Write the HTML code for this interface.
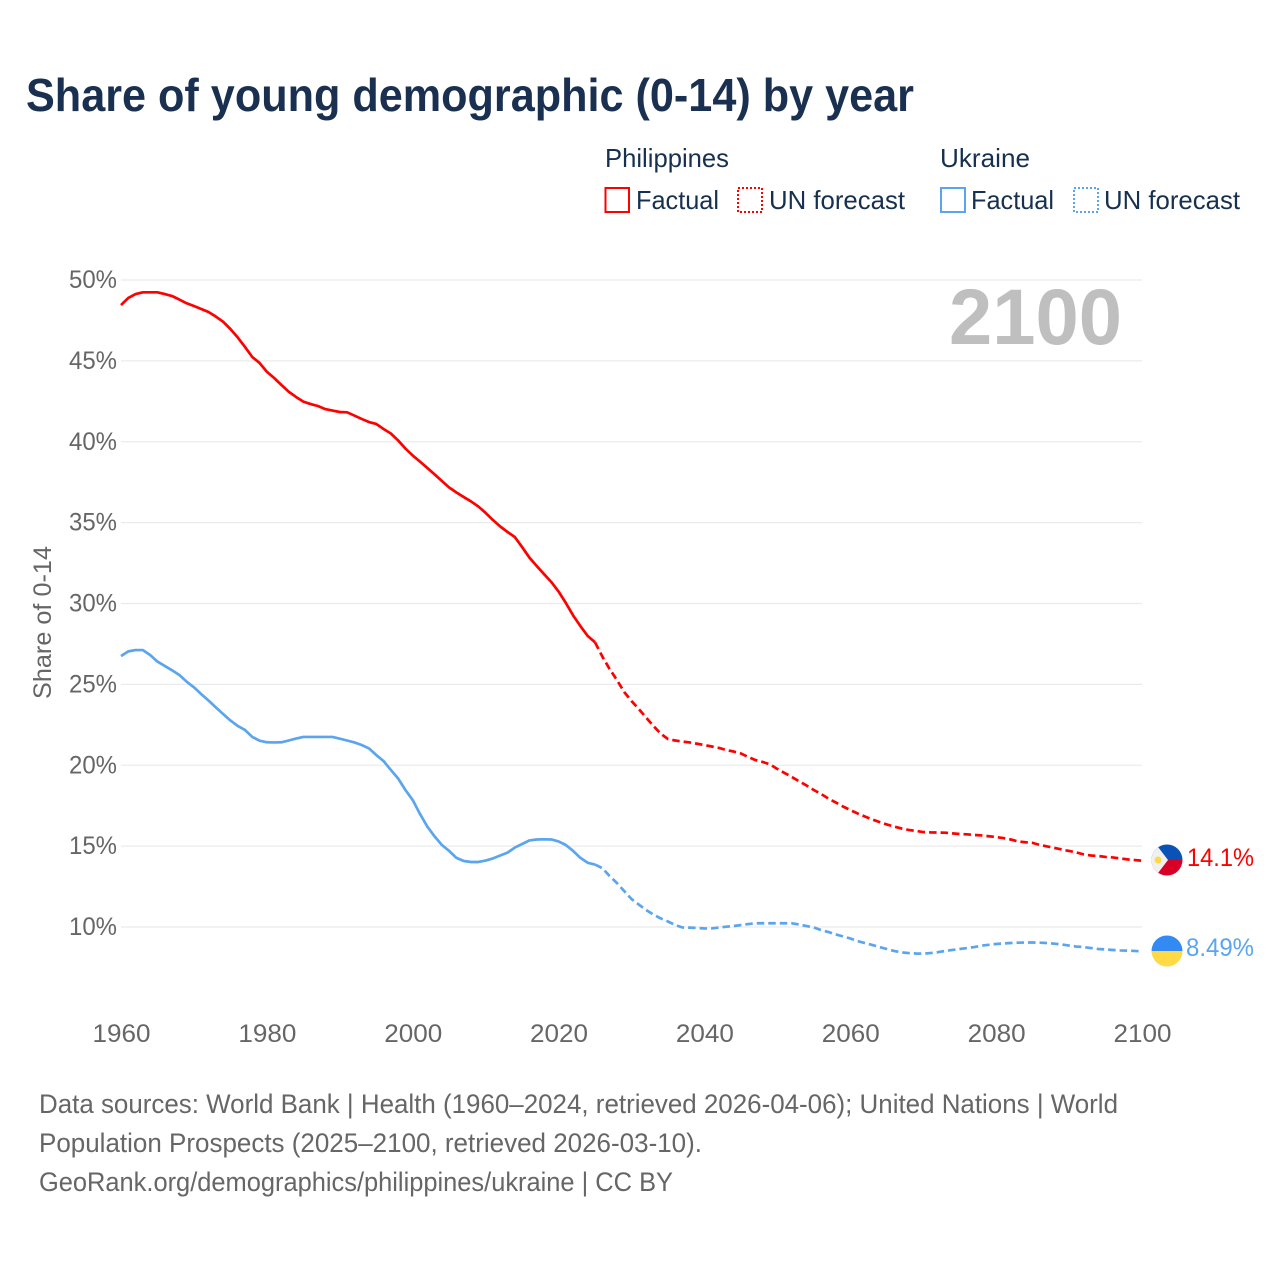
<!DOCTYPE html>
<html lang="en">
<head>
<meta charset="utf-8">
<title>Share of young demographic (0-14) by year</title>
<style>
html,body{margin:0;padding:0;background:#fff;width:1280px;height:1280px;overflow:hidden}
svg{display:block}
text{font-family:"Liberation Sans",sans-serif}
.tick{font-size:25px;fill:#666}
.leg{font-size:26px;fill:#17304f}
.src{font-size:26.5px;fill:#666}
</style>
</head>
<body>
<svg id="chart" xmlns="http://www.w3.org/2000/svg" width="1280" height="1280" viewBox="0 0 1280 1280">
  <rect x="0" y="0" width="1280" height="1280" fill="#fff"/>
  <text x="26" y="111" font-size="46" font-weight="700" fill="#1a3050" textLength="888" lengthAdjust="spacingAndGlyphs">Share of young demographic (0-14) by year</text>

  <g>
    <text class="leg" x="605" y="167" textLength="124" lengthAdjust="spacingAndGlyphs">Philippines</text>
    <rect x="605.500" y="188" width="23.500" height="24" fill="none" stroke="#ff0000" stroke-width="2"/>
    <text class="leg" x="636" y="209" textLength="83" lengthAdjust="spacingAndGlyphs">Factual</text>
    <rect x="738" y="188" width="24" height="24" fill="none" stroke="#ff0000" stroke-width="2" stroke-dasharray="2 2"/>
    <text class="leg" x="769" y="209" textLength="136" lengthAdjust="spacingAndGlyphs">UN forecast</text>
    <text class="leg" x="940" y="167" textLength="90" lengthAdjust="spacingAndGlyphs">Ukraine</text>
    <rect x="941" y="188" width="24" height="24" fill="none" stroke="#5ba5ee" stroke-width="2"/>
    <text class="leg" x="971" y="209" textLength="83" lengthAdjust="spacingAndGlyphs">Factual</text>
    <rect x="1074" y="188" width="24" height="24" fill="none" stroke="#5ba5ee" stroke-width="2" stroke-dasharray="2 2"/>
    <text class="leg" x="1104" y="209" textLength="136" lengthAdjust="spacingAndGlyphs">UN forecast</text>
  </g>

  <g id="grid"></g>
  <g id="yticks"></g>
  <g id="xticks"></g>

  <text x="949" y="344" font-size="79" font-weight="700" fill="#bfbfbf" textLength="173" lengthAdjust="spacingAndGlyphs">2100</text>
  <text transform="translate(51,699) rotate(-90)" x="0" y="0" font-size="25" fill="#666" textLength="153" lengthAdjust="spacingAndGlyphs">Share of 0-14</text>

  <g id="lines"></g>

  <g>
    <clipPath id="ph-clip"><circle cx="1167" cy="860" r="15.500"/></clipPath>
    <g clip-path="url(#ph-clip)">
      <rect x="1150" y="843" width="34" height="17" fill="#0a52b5"/>
      <rect x="1150" y="860" width="34" height="17" fill="#d80027"/>
      <polygon points="1150,843 1155,843 1168,860 1155,877 1150,877" fill="#f0f0f0"/>
      <circle cx="1158" cy="860" r="3.500" fill="#ffda44"/>
    </g>
  </g>
  <g>
    <clipPath id="ua-clip"><circle cx="1167" cy="951" r="15.500"/></clipPath>
    <g clip-path="url(#ua-clip)">
      <rect x="1150" y="934" width="34" height="17" fill="#338af3"/>
      <rect x="1150" y="951" width="34" height="17" fill="#ffda44"/>
    </g>
  </g>
  <text x="1187" y="866" font-size="25" fill="#ff0000" textLength="67" lengthAdjust="spacingAndGlyphs">14.1%</text>
  <text x="1186" y="956" font-size="25" fill="#5ba5ee" textLength="68" lengthAdjust="spacingAndGlyphs">8.49%</text>

  <g>
    <text class="src" x="39" y="1113" textLength="1079" lengthAdjust="spacingAndGlyphs">Data sources: World Bank | Health (1960–2024, retrieved 2026-04-06); United Nations | World</text>
    <text class="src" x="39" y="1152" textLength="663" lengthAdjust="spacingAndGlyphs">Population Prospects (2025–2100, retrieved 2026-03-10).</text>
    <text class="src" x="39" y="1191" textLength="634" lengthAdjust="spacingAndGlyphs">GeoRank.org/demographics/philippines/ukraine | CC BY</text>
  </g>
</svg>
<script>
const factualStartYear = 1960;
const forecastStartYear = 2025;
const yTickValues = [50, 45, 40, 35, 30, 25, 20, 15, 10];
const xTickYears = [1960, 1980, 2000, 2020, 2040, 2060, 2080, 2100];

const philippinesFactual = [
  48.45,48.89,49.13,49.24,49.24,49.24,49.13,49.01,48.79,48.56,
  48.39,48.21,48.02,47.74,47.42,46.97,46.45,45.86,45.24,44.87,
  44.33,43.94,43.51,43.09,42.77,42.48,42.33,42.21,42.02,41.93,
  41.84,41.82,41.62,41.41,41.22,41.10,40.79,40.51,40.08,39.58,
  39.15,38.77,38.38,37.98,37.57,37.17,36.86,36.58,36.31,36.00,
  35.60,35.16,34.76,34.42,34.11,33.49,32.84,32.32,31.82,31.33,
  30.74,30.03,29.26,28.60,27.99,27.60
];
const philippinesForecast = [
  27.60,26.72,25.95,25.27,24.53,
  23.97,23.48,22.95,22.43,21.96,21.62,21.53,21.46,21.41,21.33,
  21.25,21.16,21.07,20.94,20.85,20.73,20.51,20.32,20.20,20.05,
  19.77,19.52,19.27,19.00,18.75,18.47,18.22,17.94,17.70,17.45,
  17.23,17.02,16.83,16.65,16.49,16.34,16.21,16.09,16.00,15.94,
  15.87,15.85,15.84,15.83,15.79,15.75,15.73,15.69,15.66,15.61,
  15.56,15.50,15.41,15.29,15.24,15.20,15.07,14.98,14.89,14.79,
  14.70,14.61,14.49,14.42,14.39,14.33,14.30,14.24,14.18,14.14,
  14.10
];
const ukraineFactual = [
  26.75,27.04,27.12,27.12,26.82,26.41,26.14,25.87,25.58,25.17,
  24.82,24.40,24.00,23.58,23.17,22.77,22.43,22.18,21.75,21.52,
  21.42,21.41,21.42,21.53,21.65,21.75,21.75,21.75,21.75,21.75,
  21.64,21.53,21.41,21.25,21.04,20.63,20.26,19.71,19.18,18.47,
  17.85,16.99,16.21,15.60,15.07,14.70,14.27,14.08,14.02,14.02,
  14.11,14.24,14.42,14.60,14.91,15.13,15.35,15.41,15.42,15.41,
  15.29,15.07,14.70,14.27,13.97,13.86
];
const ukraineForecast = [
  13.86,13.64,13.15,12.72,12.22,
  11.73,11.39,11.05,10.77,10.53,10.34,10.12,9.97,9.96,9.94,
  9.91,9.91,9.97,10.02,10.06,10.12,10.18,10.23,10.23,10.23,
  10.23,10.23,10.23,10.15,10.06,9.97,9.81,9.69,9.54,9.42,
  9.29,9.13,9.01,8.89,8.76,8.64,8.52,8.43,8.39,8.36,
  8.35,8.39,8.44,8.52,8.58,8.64,8.70,8.76,8.85,8.90,
  8.95,8.98,9.01,9.03,9.04,9.04,9.03,9.01,8.97,8.92,
  8.85,8.79,8.76,8.70,8.64,8.61,8.58,8.55,8.54,8.52,
  8.49
];

const NS = 'http://www.w3.org/2000/svg';
function xScale(year) { return 121 + (year - 1960) * (1142 - 121) / 140; }
function yScale(v) { return 280 + (50 - v) * (927 - 280) / 40; }
function linePath(values, startYear) {
  return values.map(function (v, i) {
    return (i ? 'L' : 'M') + xScale(startYear + i).toFixed(2) + ' ' + yScale(v).toFixed(2);
  }).join(' ');
}

const gridGroup = document.getElementById('grid');
const yGroup = document.getElementById('yticks');
const xGroup = document.getElementById('xticks');
const lineGroup = document.getElementById('lines');

yTickValues.forEach(function (v) {
  const g = document.createElementNS(NS, 'line');
  
  
  g.setAttribute('x1', xScale(1960));
  g.setAttribute('x2', xScale(2100));
  g.setAttribute('y1', yScale(v));
  g.setAttribute('y2', yScale(v));
  g.setAttribute('stroke', '#ebebeb');
  g.setAttribute('stroke-width', '1.2');
  gridGroup.appendChild(g);

  const t = document.createElementNS(NS, 'text');
  
  
  t.setAttribute('class', 'tick');
  t.setAttribute('x', 69);
  t.setAttribute('y', yScale(v) + 8);
  t.setAttribute('textLength', 48);
  t.setAttribute('lengthAdjust', 'spacingAndGlyphs');
  t.textContent = v + '%';
  yGroup.appendChild(t);
});

xTickYears.forEach(function (y) {
  const t = document.createElementNS(NS, 'text');
  
  
  t.setAttribute('class', 'tick');
  t.setAttribute('x', xScale(y) + 0.5 - 29);
  t.setAttribute('y', 1042);
  t.setAttribute('textLength', 58);
  t.setAttribute('lengthAdjust', 'spacingAndGlyphs');
  t.textContent = String(y);
  xGroup.appendChild(t);
});

function drawLine(values, startYear, color, dashed, name) {
  const p = document.createElementNS(NS, 'path');
  
  
  p.setAttribute('d', linePath(values, startYear));
  p.setAttribute('fill', 'none');
  p.setAttribute('stroke', color);
  p.setAttribute('stroke-width', '2.7');
  p.setAttribute('stroke-linejoin', 'round');
  if (dashed) p.setAttribute('stroke-dasharray', '7.5 4');
  lineGroup.appendChild(p);
}

drawLine(ukraineFactual, factualStartYear, '#5ba5ee', false, 'ukraine-factual-line');
drawLine(ukraineForecast, forecastStartYear, '#5ba5ee', true, 'ukraine-forecast-line');
drawLine(philippinesFactual, factualStartYear, '#ff0000', false, 'philippines-factual-line');
drawLine(philippinesForecast, forecastStartYear, '#ff0000', true, 'philippines-forecast-line');
</script>
</body>
</html>
